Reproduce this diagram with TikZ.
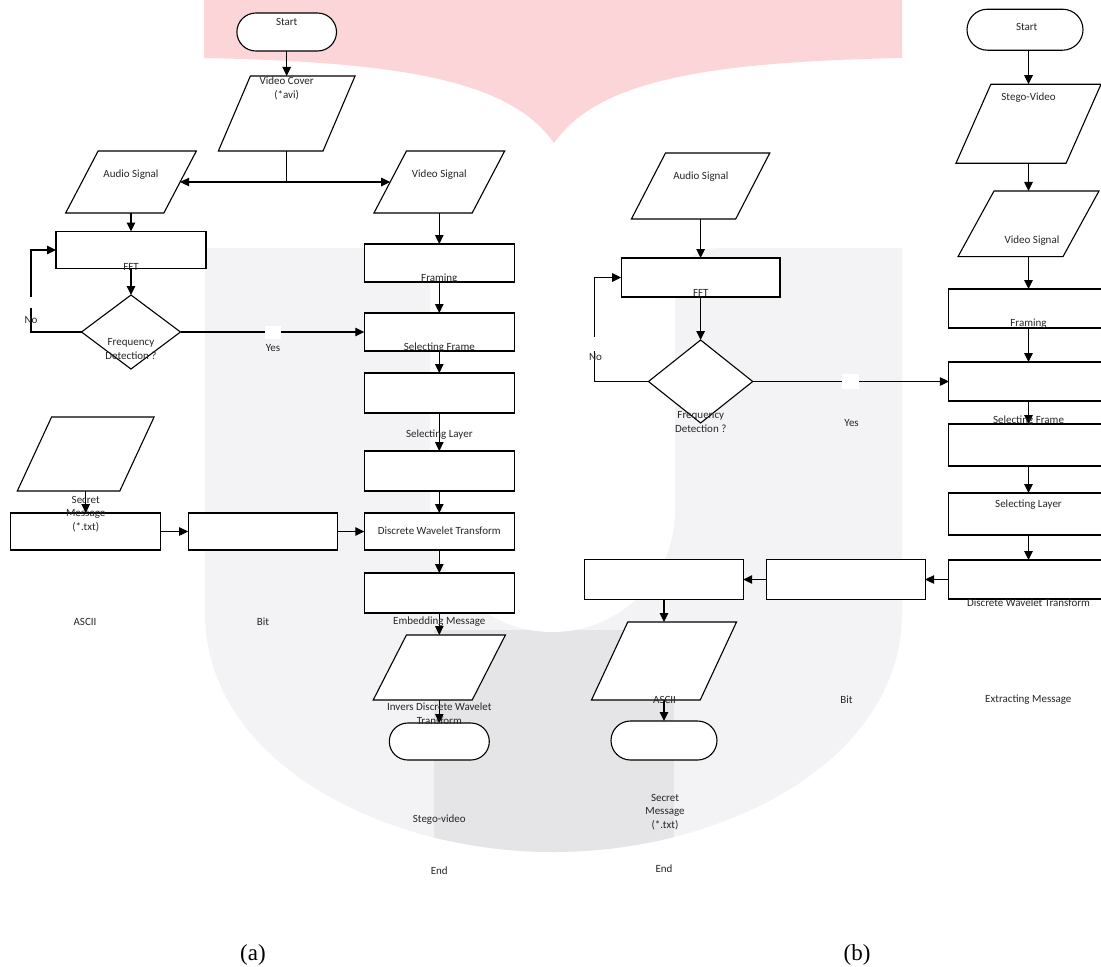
\documentclass[tikz,border=0pt]{standalone}
\usepackage{fontspec}
\setmainfont{Carlito}
\newfontfamily\capfont{Liberation Serif}
\usetikzlibrary{shapes.geometric,shapes.misc,arrows.meta}
\definecolor{wmpink}{RGB}{252,213,217}
\definecolor{wmlight}{RGB}{243,243,245}
\definecolor{wmdark}{RGB}{229,229,232}
\begin{document}
\begin{tikzpicture}[x=1pt,y=-1pt,
  every node/.style={inner sep=0pt, outer sep=0pt},
  proc/.style={draw, fill=white, line width=1.1pt, rectangle},
  term/.style={draw, fill=white, line width=1.1pt, rounded rectangle},
  io/.style={draw, fill=white, line width=1.1pt, trapezium, trapezium stretches=true, inner sep=1pt},
  dec/.style={draw, fill=white, line width=1.1pt, diamond},
  lbl/.style={font=\fontsize{11}{13.8}\selectfont, text=black!85, align=center},
  arr/.style={line width=1.1pt, -{Triangle[length=9pt,width=8.5pt]}},
  ln/.style={line width=1.1pt},
  gap/.style={fill=white, draw=none},
  captext/.style={font=\capfont\fontsize{23}{27}\selectfont}
]
\useasboundingbox (0,0) rectangle (1101,967);
\clip (0,0) rectangle (1101,967);
% ---- watermark ----
\fill[wmpink] (204,0) -- (204,58) .. controls (400,62) and (510,80) .. (554,143)
  .. controls (598,80) and (708,62) .. (902,58) -- (902,0) -- cycle;
\fill[wmlight] (205,248) -- (205,613) .. controls (205,760) and (380,852) .. (553,852)
  .. controls (726,852) and (902,760) .. (902,613) -- (902,248) -- cycle;
\begin{scope}
  \clip (205,248) -- (205,613) .. controls (205,760) and (380,852) .. (553,852)
  .. controls (726,852) and (902,760) .. (902,613) -- (902,248) -- cycle;
  \fill[wmdark] (434,630) rectangle (674,900);
\end{scope}
\fill[white] (400,240) -- (400,248) .. controls (420,248) and (430,258) .. (430,278)
  -- (430,510) .. controls (430,578) and (485,632) .. (552.5,632)
  .. controls (620,632) and (675,578) .. (675,510) -- (675,298)
  .. controls (675,265) and (690,248) .. (723,248) -- (723,240) -- cycle;

% ================= (a) =================
\node[term, minimum width=99.6pt, minimum height=38pt] (startA) at (286.7,32) {};
\node[io, trapezium left angle=66.2, trapezium right angle=113.8, minimum width=136.7pt, minimum height=75pt] (vcover) at (286.7,113.5) {};
\coordinate (splitA) at (286.7,182);
\node[io, trapezium left angle=63.7, trapezium right angle=116.3, minimum width=130.7pt, minimum height=62pt] (audioA) at (131,182) {};
\node[io, trapezium left angle=63.7, trapezium right angle=116.3, minimum width=130.7pt, minimum height=62pt] (videoA) at (439.3,182) {};
\node[proc, minimum width=150pt, minimum height=37pt] (fftA) at (131,250) {};
\node[dec, minimum width=99pt, minimum height=74pt] (decA) at (131,332) {};
\coordinate (noA) at (31,250);
\node[proc, minimum width=150pt, minimum height=38pt] (framA) at (439.3,263) {};
\node[proc, minimum width=150pt, minimum height=38pt] (sfA) at (439.3,332) {};
\node[proc, minimum width=150pt, minimum height=40pt] (slA) at (439.3,393) {};
\node[proc, minimum width=150pt, minimum height=40pt] (b4A) at (439.3,471) {};
\node[proc, minimum width=150pt, minimum height=37pt] (dwtA) at (439.3,531.5) {};
\node[proc, minimum width=150pt, minimum height=40pt] (embA) at (439.3,593) {};
\node[io, trapezium left angle=63.2, trapezium right angle=116.8, minimum width=132.2pt, minimum height=65pt] (idwtA) at (439.3,667.5) {};
\node[term, minimum width=100pt, minimum height=37pt] (endA) at (439.3,741.5) {};
\node[io, trapezium left angle=63.3, trapezium right angle=116.7, minimum width=136.8pt, minimum height=74pt] (secA) at (85.7,454) {};
\node[proc, minimum width=150pt, minimum height=37pt] (asciiA) at (85.7,531.5) {};
\node[proc, minimum width=149.7pt, minimum height=37pt] (bitA) at (263,531.5) {};

\draw[arr] (startA) -- (vcover);
\draw[ln] (vcover.south) -- (splitA);
\draw[arr] (splitA) -- (audioA);
\draw[arr] (splitA) -- (videoA);
\draw[arr] (audioA) -- (fftA);
\draw[arr] (fftA) -- (decA);
\draw[arr] (decA.west) -| (noA) -- (fftA.west);
\draw[arr] (decA) -- (sfA);
\draw[arr] (videoA) -- (framA);
\draw[arr] (framA) -- (sfA);
\draw[arr] (sfA) -- (slA);
\draw[arr] (slA) -- (b4A);
\draw[arr] (b4A) -- (dwtA);
\draw[arr] (dwtA) -- (embA);
\draw[arr] (embA) -- (idwtA);
\draw[arr] (idwtA) -- (endA);
\draw[arr] (secA) -- (asciiA);
\draw[arr] (asciiA) -- (bitA);
\draw[arr] (bitA) -- (dwtA);
\node[gap, minimum width=15.7pt, minimum height=13pt] (gapA) at (273,332.5) {};
\node[gap, minimum width=5pt, minimum height=11pt] (gapNoA) at (31,302) {};

\node[lbl] (tStartA) at (286.7,22) {Start};
\node[lbl] (tVcover) at (286.7,88.5) {Video Cover\\(*avi)};
\node[lbl] (tAudioA) at (131,175) {Audio Signal};
\node[lbl] (tVideoA) at (439.3,175) {Video Signal};
\node[lbl] (tFftA) at (131,267) {FFT};
\node[lbl] (tDecA) at (131,349) {Frequency\\Detection ?};
\node[lbl] (tNoA) at (31,320) {No};
\node[lbl] (tYesA) at (273,348) {Yes};
\node[lbl] (tFramA) at (439.3,279) {Framing};
\node[lbl] (tSfA) at (439.3,348) {Selecting Frame};
\node[lbl] (tSlA) at (439.3,435) {Selecting Layer};
\node[lbl] (tDwtA) at (439.3,531) {Discrete Wavelet Transform};
\node[lbl] (tEmbA) at (439.3,622) {Embedding Message};
\node[lbl] (tIdwtA) at (439.3,713.5) {Invers Discrete Wavelet\\Transform};
\node[lbl] (tStegoA) at (439.3,820) {Stego-video};
\node[lbl] (tEndA) at (439.3,871) {End};
\node[lbl] (tSecA) at (85.7,514) {Secret\\Message\\(*.txt)};
\node[lbl] (tAsciiA) at (85,622) {ASCII};
\node[lbl] (tBitA) at (263,622) {Bit};
\node[captext] (capA) at (253,955) {(a)};

% ================= (b) =================
\node[term, minimum width=116pt, minimum height=41pt] (startB) at (1025,29.7) {};
\node[io, trapezium left angle=65.1, trapezium right angle=114.9, minimum width=145pt, minimum height=79pt] (stegoB) at (1028.5,123.7) {};
\node[io, trapezium left angle=62.4, trapezium right angle=117.6, minimum width=141pt, minimum height=65.7pt] (videoB) at (1028.5,223.8) {};
\node[proc, minimum width=159.2pt, minimum height=39pt] (framB) at (1028.5,308.5) {};
\node[proc, minimum width=159.2pt, minimum height=39pt] (sfB) at (1028.5,381.5) {};
\node[proc, minimum width=159.2pt, minimum height=42pt] (b3B) at (1028.5,445) {};
\node[proc, minimum width=159.2pt, minimum height=42pt] (slB) at (1028.5,514) {};
\node[proc, minimum width=159.2pt, minimum height=39pt] (dwtB) at (1028.5,579.5) {};
\node[proc, minimum width=158.8pt, minimum height=40pt] (bitB) at (845.7,579.5) {};
\node[proc, minimum width=158.4pt, minimum height=40pt] (asciiB) at (664,579.5) {};
\node[io, trapezium left angle=63.4, trapezium right angle=116.6, minimum width=145pt, minimum height=78pt] (secB) at (664,661) {};
\node[term, minimum width=106pt, minimum height=39pt] (endB) at (664,740.5) {};
\node[io, trapezium left angle=64.1, trapezium right angle=115.9, minimum width=138.4pt, minimum height=66pt] (audioB) at (700.6,186) {};
\node[proc, minimum width=158.8pt, minimum height=39pt] (fftB) at (700.6,277.5) {};
\node[dec, minimum width=104.2pt, minimum height=83pt] (decB) at (700.6,381.5) {};
\coordinate (noB) at (594.5,277.5);

\draw[arr] (startB.south -| stegoB.north) -- (stegoB.north);
\draw[arr] (stegoB) -- (videoB);
\draw[arr] (videoB) -- (framB);
\draw[arr] (framB) -- (sfB);
\draw[arr] (sfB) -- (b3B);
\draw[arr] (b3B) -- (slB);
\draw[arr] (slB) -- (dwtB);
\draw[arr] (dwtB) -- (bitB);
\draw[arr] (bitB) -- (asciiB);
\draw[arr] (asciiB) -- (secB);
\draw[arr] (secB) -- (endB);
\draw[arr] (audioB) -- (fftB);
\draw[arr] (fftB) -- (decB);
\draw[arr] (decB.west) -| (noB) -- (fftB.west);
\draw[arr] (decB) -- (sfB);
\node[gap, minimum width=16.5pt, minimum height=15pt] (gapB) at (850.5,381.5) {};
\node[gap, minimum width=5pt, minimum height=14pt] (gapNoB) at (594.5,343.5) {};

\node[lbl] (tStartB) at (1026.7,27) {Start};
\node[lbl] (tStegoB) at (1028.5,98) {Stego-Video};
\node[lbl] (tVideoB) at (1032,240.5) {Video Signal};
\node[lbl] (tAudioB) at (700.8,177) {Audio Signal};
\node[lbl] (tFftB) at (700.8,293) {FFT};
\node[lbl] (tDecB) at (700.8,422) {Frequency\\Detection ?};
\node[lbl] (tNoB) at (595.5,357) {No};
\node[lbl] (tYesB) at (851.6,423) {Yes};
\node[lbl] (tFramB) at (1028.5,324) {Framing};
\node[lbl] (tSfB) at (1028.5,421) {Selecting Frame};
\node[lbl] (tSlB) at (1028.5,505) {Selecting Layer};
\node[lbl] (tDwtB) at (1028.5,603) {Discrete Wavelet Transform};
\node[lbl] (tBitB) at (846.4,700) {Bit};
\node[lbl] (tAsciiB) at (664.6,700) {ASCII};
\node[lbl] (tExtB) at (1028.3,700) {Extracting Message};
\node[lbl] (tSecB) at (665,812) {Secret\\Message\\(*.txt)};
\node[lbl] (tEndB) at (664,869) {End};
\node[captext] (capB) at (857,955) {(b)};
\end{tikzpicture}
\end{document}
